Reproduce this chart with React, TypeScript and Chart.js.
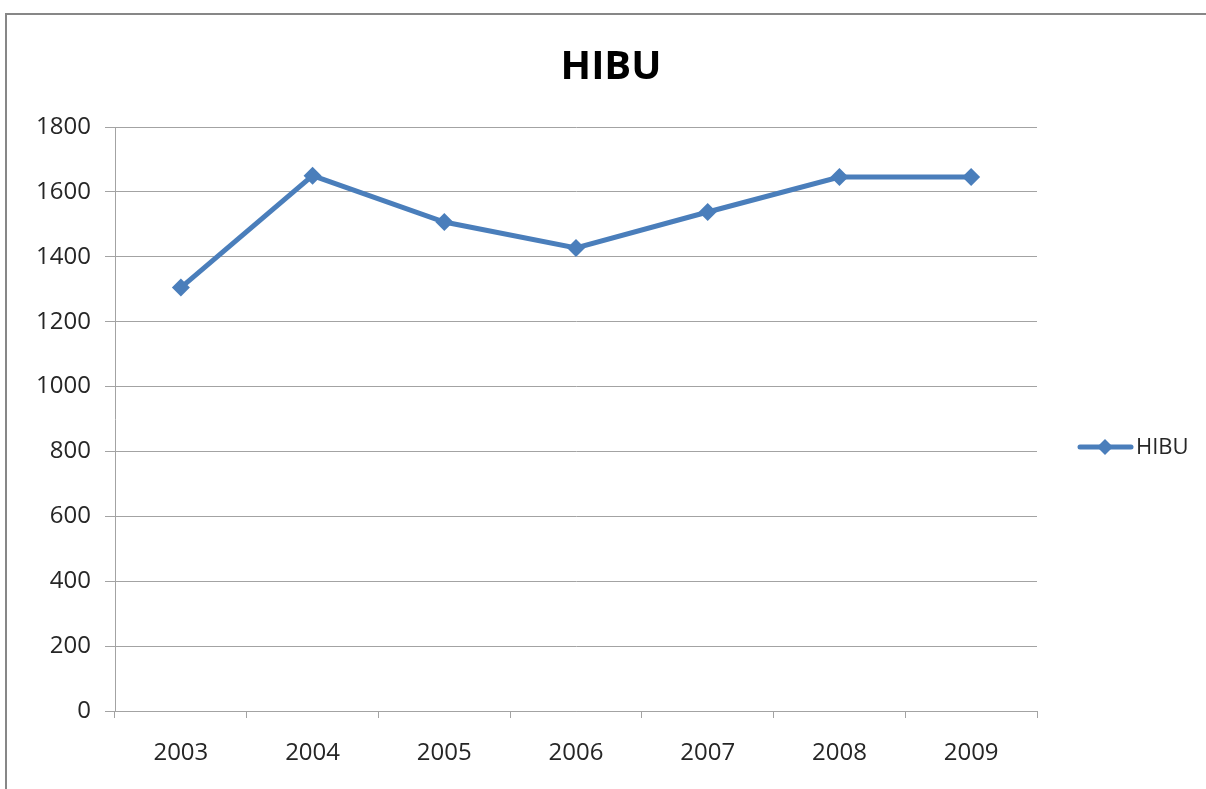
import React, { useEffect, useRef } from "react";
import { Chart, registerables } from "chart.js";

Chart.register(...registerables);

const years = ["2003", "2004", "2005", "2006", "2007", "2008", "2009"];
const hibuValues = [1305, 1650, 1507, 1427, 1538, 1646, 1646];
const seriesName = "HIBU";
const chartTitle = "HIBU";

const LINE_COLOR = "#4A7EBB";
const GRID_COLOR = "#a3a3a3";
const TEXT_COLOR = "#262626";
const FONT = "'Open Sans', 'DejaVu Sans', sans-serif";

const framePlugin = {
  id: "frame",
  beforeDraw(chart: any) {
    const ctx = chart.ctx;
    ctx.save();
    ctx.fillStyle = "#ffffff";
    ctx.fillRect(0, 0, chart.width, chart.height);
    ctx.strokeStyle = "#878787";
    ctx.lineWidth = 2;
    ctx.strokeRect(6, 14, 1400, 1000);
    ctx.restore();
  },
  afterDraw(chart: any) {
    const ctx = chart.ctx;
    const ds = chart.data.datasets[0];
    const y = 447;
    ctx.save();
    ctx.strokeStyle = LINE_COLOR;
    ctx.lineWidth = 5;
    ctx.lineCap = "round";
    ctx.beginPath();
    ctx.moveTo(1080, y);
    ctx.lineTo(1131, y);
    ctx.stroke();
    ctx.fillStyle = LINE_COLOR;
    ctx.beginPath();
    const r = 8;
    ctx.moveTo(1105, y - r);
    ctx.lineTo(1105 + r, y);
    ctx.lineTo(1105, y + r);
    ctx.lineTo(1105 - r, y);
    ctx.closePath();
    ctx.fill();
    ctx.fillStyle = TEXT_COLOR;
    ctx.font = `22px ${FONT}`;
    ctx.textBaseline = "middle";
    ctx.textAlign = "left";
    ctx.fillText(ds.label, 1136, y + 1);
    ctx.restore();
  },
};

export default function App() {
  const canvasRef = useRef<HTMLCanvasElement | null>(null);

  useEffect(() => {
    if (!canvasRef.current) return;
    const chart = new Chart(canvasRef.current, {
      type: "line",
      data: {
        labels: years,
        datasets: [
          {
            label: seriesName,
            data: hibuValues,
            borderColor: LINE_COLOR,
            backgroundColor: LINE_COLOR,
            borderWidth: 5,
            pointStyle: "rectRot",
            pointRadius: 9,
            pointHoverRadius: 9,
            pointBorderWidth: 0,
            pointBackgroundColor: LINE_COLOR,
            tension: 0,
            yAxisID: "y",
          },
        ],
      },
      options: {
        responsive: false,
        animation: false,
        layout: { padding: { left: 16, right: 0, top: 0, bottom: 0 } },
        plugins: {
          legend: { display: false },
          tooltip: { enabled: false },
          title: {
            display: true,
            text: chartTitle,
            color: "#000000",
            font: { family: FONT, size: 40, weight: "bold", lineHeight: 1.2 },
            padding: { top: 44, bottom: 35 },
          },
        },
        scales: {
          x: {
            offset: true,
            afterFit(scale: any) {
              scale.height = 78;
            },
            border: { display: true, color: GRID_COLOR, width: 1 },
            grid: {
              offset: true,
              drawOnChartArea: false,
              drawTicks: true,
              tickLength: 7,
              color: GRID_COLOR,
            },
            ticks: {
              color: TEXT_COLOR,
              font: { family: FONT, size: 24 },
              padding: 21,
              maxRotation: 0,
            },
          },
          y: {
            position: "left",
            min: 0,
            max: 1800,
            afterFit(scale: any) {
              scale.width = 99;
            },
            border: { display: true, color: GRID_COLOR, width: 1 },
            grid: {
              color: GRID_COLOR,
              tickLength: 10,
              drawTicks: true,
            },
            ticks: {
              stepSize: 200,
              color: TEXT_COLOR,
              font: { family: FONT, size: 24 },
              padding: 14,
              callback: (v: any) => String(v),
            },
          },
          legendSpace: {
            type: "linear",
            position: "right",
            display: true,
            afterFit(scale: any) {
              scale.width = 169;
            },
            grid: { display: false, drawTicks: false },
            border: { display: false },
            ticks: { display: false },
          },
        },
      },
      plugins: [framePlugin],
    });
    return () => chart.destroy();
  }, []);

  return (
    <div style={{ position: "absolute", left: 0, top: 0, width: 1206, height: 789, overflow: "hidden" }}>
      <canvas ref={canvasRef} width={1206} height={789} style={{ display: "block", width: 1206, height: 789 }} />
    </div>
  );
}
